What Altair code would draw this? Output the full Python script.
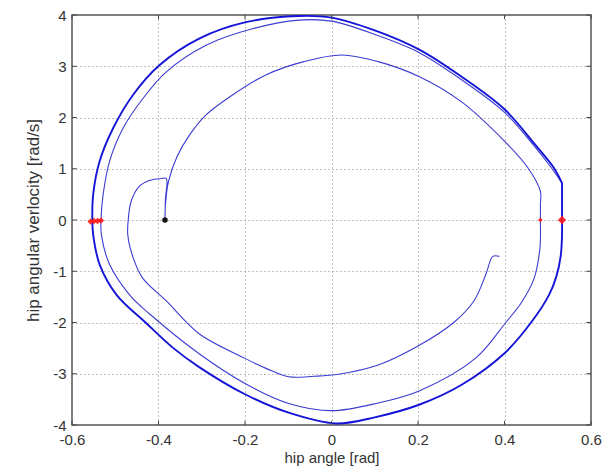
import altair as alt
import pandas as pd

# ---------------- data ----------------
x_ticks = [-0.6, -0.4, -0.2, 0.0, 0.2, 0.4, 0.6]
y_ticks = [-4, -3, -2, -1, 0, 1, 2, 3, 4]

# inner hook: from the short step at right-bottom, round the bottom, up the left, down to the start dot
hook_x = [0.388, 0.373, 0.357, 0.330, 0.284, 0.202, 0.108, 0.016, -0.040, -0.099,
          -0.150, -0.200, -0.306, -0.383, -0.437, -0.460, -0.471, -0.470, -0.463,
          -0.444, -0.421, -0.394, -0.382, -0.384, -0.385]
hook_y = [-0.71, -0.71, -1.06, -1.57, -1.99, -2.45, -2.83, -3.01, -3.05, -3.06,
          -2.90, -2.70, -2.22, -1.57, -1.13, -0.70, -0.29, 0.00, 0.37,
          0.66, 0.77, 0.81, 0.81, 0.40, 0.00]

# rise from the start dot over the top down to the first right red mark
rise_x = [-0.384, -0.377, -0.357, -0.328, -0.290, -0.229, -0.152, -0.064, 0.024,
          0.108, 0.202, 0.300, 0.401, 0.454, 0.483]
rise_y = [0.30, 0.75, 1.24, 1.66, 2.05, 2.44, 2.83, 3.09, 3.22,
          3.09, 2.80, 2.31, 1.53, 1.02, 0.56]

# second (middle) loop
mid_x = [0.483, 0.483, 0.482, 0.468, 0.440, 0.403, 0.334, 0.204, 0.108, 0.000,
         -0.099, -0.200, -0.306, -0.421, -0.467, -0.513, -0.532, -0.533, -0.528,
         -0.513, -0.482, -0.436, -0.382, -0.290, -0.183, -0.076, 0.000, 0.100,
         0.202, 0.300, 0.400, 0.468, 0.510, 0.528, 0.533]
mid_y = [0.30, 0.00, -0.54, -1.15, -1.60, -2.00, -2.69, -3.33, -3.57, -3.72,
         -3.58, -3.19, -2.61, -1.83, -1.46, -0.87, -0.29, 0.00, 0.50,
         1.15, 1.79, 2.37, 2.89, 3.41, 3.73, 3.90, 3.88, 3.62,
         3.27, 2.74, 2.10, 1.45, 1.00, 0.78, 0.72]

# outer limit cycle
outer_x = [0.533, 0.533, 0.533, 0.530, 0.520, 0.503, 0.464, 0.400, 0.300, 0.204,
           0.100, 0.010, -0.099, -0.200, -0.306, -0.367, -0.430, -0.497, -0.536,
           -0.551, -0.553, -0.551, -0.536, -0.505, -0.459, -0.398, -0.306, -0.198,
           -0.076, 0.000, 0.100, 0.204, 0.300, 0.400, 0.468, 0.514, 0.533]
outer_y = [0.72, 0.00, -0.30, -0.70, -1.10, -1.46, -1.97, -2.60, -3.22, -3.60,
           -3.85, -3.97, -3.76, -3.40, -2.87, -2.49, -2.00, -1.46, -0.87,
           -0.29, 0.00, 0.50, 1.15, 1.79, 2.44, 3.02, 3.54, 3.86,
           3.98, 3.95, 3.70, 3.32, 2.80, 2.16, 1.50, 1.02, 0.72]

red_x = [-0.557, -0.549, -0.541, -0.533, 0.483, 0.533]
red_y = [-0.03, -0.02, -0.02, -0.01, 0.00, 0.00]
red_size = [40, 40, 40, 40, 22, 70]

start_x = [-0.385]
start_y = [0.00]

# ---------------- tables ----------------
thin_x = hook_x + rise_x + mid_x
thin_y = hook_y + rise_y + mid_y
thin = pd.DataFrame({"x": thin_x, "y": thin_y, "o": list(range(len(thin_x)))})
outer = pd.DataFrame({"x": outer_x, "y": outer_y, "o": list(range(len(outer_x)))})
red = pd.DataFrame({"x": red_x, "y": red_y, "s": red_size})
start = pd.DataFrame({"x": start_x, "y": start_y})

xs = alt.Scale(domain=[-0.6, 0.6], nice=False, zero=False)
ys = alt.Scale(domain=[-4, 4], nice=False, zero=False)

x_label_expr = "datum.value == 0 ? '0' : (datum.value < 0 ? '-' : '') + format(abs(datum.value), '.1f')"
y_label_expr = "(datum.value < 0 ? '-' : '') + format(abs(datum.value), 'd')"

x_axis = alt.Axis(values=x_ticks, title="hip angle [rad]", labelExpr=x_label_expr,
                  grid=True, ticks=False, domain=False, labelPadding=7,
                  labelFlush=False, titlePadding=3, titleFontSize=15)
y_axis = alt.Axis(values=y_ticks, title="hip angular verlocity [rad/s]", grid=True,
                  labelExpr=y_label_expr, ticks=False, domain=False, labelPadding=6,
                  labelFlush=False, titlePadding=10, titleFontSize=17)

thin_line = alt.Chart(thin).mark_line(color="#3c3cd2", strokeWidth=1.1,
                                      interpolate="catmull-rom").encode(
    x=alt.X("x:Q", scale=xs, axis=x_axis),
    y=alt.Y("y:Q", scale=ys, axis=y_axis),
    order="o:Q",
)

outer_line = alt.Chart(outer).mark_line(color="#1414d8", strokeWidth=1.9,
                                        interpolate="catmull-rom").encode(
    x=alt.X("x:Q", scale=xs),
    y=alt.Y("y:Q", scale=ys),
    order="o:Q",
)

red_pts = alt.Chart(red).mark_point(filled=True, color="#ff1a1a", opacity=0.9, shape="diamond").encode(
    x=alt.X("x:Q", scale=xs),
    y=alt.Y("y:Q", scale=ys),
    size=alt.Size("s:Q", scale=None, legend=None),
)

start_pt = alt.Chart(start).mark_point(filled=True, color="#111111", size=30, opacity=1).encode(
    x=alt.X("x:Q", scale=xs),
    y=alt.Y("y:Q", scale=ys),
)

# inward ticks (MATLAB style)
xt = pd.DataFrame({"v": x_ticks})
yt = pd.DataFrame({"v": y_ticks})
tick_len_y = 0.08
tick_len_x = 0.011
xt["b0"], xt["b1"], xt["t0"], xt["t1"] = -4, -4 + tick_len_y, 4, 4 - tick_len_y
yt["l0"], yt["l1"], yt["r0"], yt["r1"] = -0.6, -0.6 + tick_len_x, 0.6, 0.6 - tick_len_x

tick_color = "#444444"
xb = alt.Chart(xt).mark_rule(color=tick_color).encode(
    x=alt.X("v:Q", scale=xs), y=alt.Y("b0:Q", scale=ys), y2="b1:Q")
xtop = alt.Chart(xt).mark_rule(color=tick_color).encode(
    x=alt.X("v:Q", scale=xs), y=alt.Y("t0:Q", scale=ys), y2="t1:Q")
yl = alt.Chart(yt).mark_rule(color=tick_color).encode(
    y=alt.Y("v:Q", scale=ys), x=alt.X("l0:Q", scale=xs), x2="l1:Q")
yr = alt.Chart(yt).mark_rule(color=tick_color).encode(
    y=alt.Y("v:Q", scale=ys), x=alt.X("r0:Q", scale=xs), x2="r1:Q")

chart = alt.layer(thin_line, outer_line, red_pts, start_pt, xb, xtop, yl, yr).properties(
    width=519, height=410,
    autosize=alt.AutoSizeParams(type="none"),
    padding={"left": 64, "top": 7, "right": 11, "bottom": 41},
).configure_view(
    stroke="#555555", strokeWidth=1.5, fill="white"
).configure_axis(
    gridColor="#808080", gridDash=[1, 3], gridWidth=1, gridOpacity=1,
    labelFont="Liberation Sans", labelFontSize=15, labelColor="#333333",
    titleFont="Liberation Sans", titleColor="#333333",
    titleFontWeight="normal",
)

chart.save("out.html", embed_options={"renderer": "svg", "actions": False})
